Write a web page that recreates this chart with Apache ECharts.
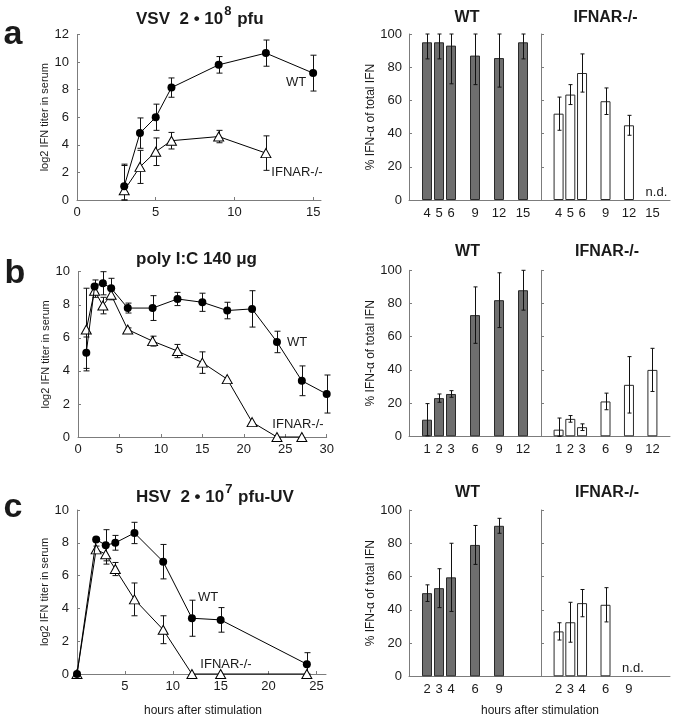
<!DOCTYPE html>
<html><head><meta charset="utf-8">
<script src="https://cdn.jsdelivr.net/npm/echarts@6/dist/echarts.min.js"></script>
<style>html,body{margin:0;padding:0;background:#fff}#c{width:674px;height:720px}</style>
</head><body><div id="c"></div>
<script>
// ---------------- DATA ----------------
// Panel a: VSV 2x10^8 pfu, log2 IFN titer
const aHours = [3, 4, 5, 6, 9, 12, 15];
const aWT    = [1.0, 4.85, 6.0, 8.15, 9.8, 10.65, 9.2];
const aWTErr = [1.6, 1.1, 0.95, 0.7, 0.6, 0.95, 1.3];
const aKO    = [0.7, 2.4, 3.5, 4.3, 4.6, 3.4, null];
const aKOErr = [1.8, 1.2, 1.0, 0.6, 0.45, 1.25, null];
// Panel b: poly I:C 140 ug
const bHours = [1, 2, 3, 4, 6, 9, 12, 15, 18, 21, 24, 27, 30];
const bWT    = [5.1, 9.1, 9.3, 9.0, 7.8, 7.8, 8.35, 8.15, 7.65, 7.75, 5.75, 3.4, 2.6];
const bWTErr = [0.95, 0.4, 0.7, 0.6, 0.3, 0.75, 0.4, 0.55, 0.5, 1.1, 0.65, 0.9, 1.15];
const bKO    = [6.5, 8.85, 7.95, 8.6, 6.5, 5.8, 5.2, 4.5, 3.5, 0.9, 0, 0, null];
const bKOErr = [2.5, 0.4, 0.5, 0.3, 0.1, 0.3, 0.4, 0.65, 0, 0, 0, 0, null];
// Panel c: HSV 2x10^7 pfu-UV
const cHours = [0, 2, 3, 4, 6, 9, 12, 15, 24];
const cWT    = [0, 8.2, 7.85, 8.0, 8.6, 6.85, 3.4, 3.3, 0.6];
const cWTErr = [0, 0.1, 0.95, 0.45, 0.65, 1.05, 1.1, 0.75, 0.7];
const cKO    = [0, 7.6, 7.3, 6.4, 4.55, 2.7, 0, 0, 0];
const cKOErr = [0, 0.2, 0.6, 0.4, 1.0, 0.85, 0, 0, 0];

// % IFN-alpha of total IFN (bars)
const aBarHours = ['4', '5', '6', '9', '12', '15'];
const aBarWT    = [95, 95, 93, 87, 85.5, 95];
const aBarWTErr = [10, 10, 23, 17.5, 17.5, 10];
const aBarKO    = [52, 63.5, 76.5, 59.5, 45, null];
const aBarKOErr = [10, 6, 11.5, 8, 6, null];

const bBarHours = ['1', '2', '3', '6', '9', '12'];
const bBarWT    = [10, 23, 25.5, 73, 82, 88];
const bBarWTErr = [9.7, 2.5, 2, 17, 16.5, 12];
const bBarKO    = [4, 10.5, 5.5, 21, 31, 40];
const bBarKOErr = [7, 2, 2, 5, 17, 13];

const cBarHours = ['2', '3', '4', '6', '9'];
const cBarWT    = [50, 53, 59.5, 79, 90.5];
const cBarWTErr = [5, 11.7, 20.5, 11.7, 4.5];
const cBarKO    = [27, 32.5, 44, 43, null];
const cBarKOErr = [5.2, 12, 8.2, 10.3, null];

// ---------------- LAYOUT / STYLE ----------------
const FONT = "'Liberation Sans', Arial, Helvetica, sans-serif";
const TXT = '#1a1a1a';
const AX = '#7c7c7c';
const SLOT_COUNT = 11;
const SLOTS = [1, 2, 3, 5, 7, 9];

function slotCats(hours) {
  const c = new Array(SLOT_COUNT).fill('');
  hours.forEach((h, i) => { c[SLOTS[i]] = h; });
  return c;
}
function slotVals(vals) {
  const c = new Array(SLOT_COUNT).fill(null);
  vals.forEach((v, i) => { c[SLOTS[i]] = v; });
  return c;
}
function errRender(capHalf, lo, hi) {
  return function (params, api) {
    const x = api.value(0), v = api.value(1), e = api.value(2);
    if (v === null || isNaN(v) || !e || isNaN(e)) return null;
    const top = Math.min(hi, v + e), bot = Math.max(lo, v - e);
    const p1 = api.coord([x, top]), p2 = api.coord([x, bot]);
    const st = { stroke: '#111', lineWidth: 1 };
    const cx = Math.round(p1[0]) + 0.5;
    return { type: 'group', children: [
      { type: 'line', shape: { x1: cx, y1: p1[1], x2: cx, y2: p2[1] }, style: st },
      { type: 'line', shape: { x1: cx - capHalf, y1: p1[1], x2: cx + capHalf, y2: p1[1] }, style: st },
      { type: 'line', shape: { x1: cx - capHalf, y1: p2[1], x2: cx + capHalf, y2: p2[1] }, style: st }
    ]};
  };
}
function ndRender(params, api) {
  const p = api.coord([api.value(0), 0]);
  return { type: 'text', x: p[0] + 4, y: p[1] - 8,
    style: { text: 'n.d.', fill: TXT, font: '13px ' + FONT, align: 'center', verticalAlign: 'middle' } };
}

const grids = [
  { left: 77, top: 34.5, width: 244, height: 165.5 },   // 0 a line
  { left: 78, top: 271.7, width: 248.7, height: 165.3 },// 1 b line
  { left: 77, top: 510, width: 249, height: 164 },      // 2 c line
  { left: 409, top: 34, width: 132, height: 166 },      // 3 a WT
  { left: 541, top: 34, width: 129, height: 166 },      // 4 a KO
  { left: 409, top: 270.3, width: 132, height: 166 },   // 5 b WT
  { left: 541, top: 270.3, width: 129, height: 166 },   // 6 b KO
  { left: 409, top: 510, width: 132, height: 166.3 },   // 7 c WT
  { left: 541, top: 510, width: 129, height: 166.3 }    // 8 c KO
];

const axisLine = { show: true, lineStyle: { color: AX, width: 1 } };
const axisTick = { show: true, inside: true, length: 3, lineStyle: { color: AX, width: 1 } };
const labelBase = { color: TXT, fontSize: 13, fontFamily: FONT };

function lineX(g, max, ticks) {
  return { type: 'value', gridIndex: g, min: 0, max: max, interval: 5,
    axisLine, splitLine: { show: false },
    axisTick: Object.assign({}, axisTick, { customValues: ticks }),
    axisLabel: Object.assign({}, labelBase, { margin: 6, customValues: ticks }) };
}
function lineY(g, max) {
  return { type: 'value', gridIndex: g, min: 0, max: max, interval: 2,
    axisLine, axisTick, splitLine: { show: false },
    axisLabel: Object.assign({}, labelBase, { margin: 8 }),
    name: 'log2 IFN titer in serum', nameLocation: 'middle', nameGap: 27,
    nameTextStyle: { color: TXT, fontSize: 11, fontFamily: FONT } };
}
function barX(g, hours) {
  return { type: 'category', gridIndex: g, data: slotCats(hours),
    axisLine, axisTick: { show: false }, splitLine: { show: false },
    axisLabel: Object.assign({}, labelBase, { interval: 0, margin: 7 }) };
}
function barY(g, showLabels) {
  const y = { type: 'value', gridIndex: g, min: 0, max: 100, interval: 20,
    axisLine, axisTick, splitLine: { show: false },
    axisLabel: Object.assign({}, labelBase, { show: showLabels, margin: 7 }) };
  if (showLabels) {
    y.name = '% IFN-α of total IFN'; y.nameLocation = 'middle'; y.nameGap = 26;
    y.nameTextStyle = { color: TXT, fontSize: 12, fontFamily: FONT };
  }
  return y;
}

const xAxes = [
  lineX(0, 15.5, [0, 5, 10, 15]),
  lineX(1, 30, [0, 5, 10, 15, 20, 25, 30]),
  lineX(2, 26, [5, 10, 15, 20, 25]),
  barX(3, aBarHours), barX(4, aBarHours),
  barX(5, bBarHours), barX(6, bBarHours),
  barX(7, cBarHours), barX(8, cBarHours)
];
const yAxes = [
  lineY(0, 12), lineY(1, 10), lineY(2, 10),
  barY(3, true), barY(4, false), barY(5, true), barY(6, false), barY(7, true), barY(8, false)
];

const series = [];
function addLinePanel(ai, hours, wt, wtE, ko, koE) {
  const pairs = (vals) => hours.map((h, i) => [h, vals[i]]).filter(d => d[1] !== null);
  const trip = (vals, errs) => hours.map((h, i) => [h, vals[i], errs[i]]).filter(d => d[1] !== null);
  series.push({ type: 'custom', xAxisIndex: ai, yAxisIndex: ai, z: 2, silent: true,
    renderItem: errRender(3, 0, 1e9), data: trip(wt, wtE), encode: { x: 0, y: 1 } });
  series.push({ type: 'custom', xAxisIndex: ai, yAxisIndex: ai, z: 2, silent: true,
    renderItem: errRender(3, 0, 1e9), data: trip(ko, koE), encode: { x: 0, y: 1 } });
  series.push({ type: 'line', xAxisIndex: ai, yAxisIndex: ai, z: 3, clip: false, data: pairs(ko),
    symbol: 'triangle', symbolSize: [10, 9], lineStyle: { color: '#000', width: 1 },
    itemStyle: { color: '#fff', borderColor: '#000', borderWidth: 1 }, animation: false });
  series.push({ type: 'line', xAxisIndex: ai, yAxisIndex: ai, z: 4, clip: false, data: pairs(wt),
    symbol: 'circle', symbolSize: 8, lineStyle: { color: '#000', width: 1 },
    itemStyle: { color: '#000', borderColor: '#000', borderWidth: 0 }, animation: false });
}
addLinePanel(0, aHours, aWT, aWTErr, aKO, aKOErr);
addLinePanel(1, bHours, bWT, bWTErr, bKO, bKOErr);
addLinePanel(2, cHours, cWT, cWTErr, cKO, cKOErr);

function addBars(ai, vals, errs, filled) {
  series.push({ type: 'bar', xAxisIndex: ai, yAxisIndex: ai, z: 2, data: slotVals(vals), barWidth: 10,
    itemStyle: { color: filled ? '#6e6e6e' : '#ffffff', borderColor: '#2a2a2a', borderWidth: 1 },
    animation: false });
  series.push({ type: 'custom', xAxisIndex: ai, yAxisIndex: ai, z: 3, silent: true,
    renderItem: errRender(2, 0, 100),
    data: vals.map((v, i) => [SLOTS[i], v, errs[i]]).filter(d => d[1] !== null) });
  const nd = vals.map((v, i) => [SLOTS[i], v]).filter(d => d[1] === null).map(d => [d[0], 0]);
  if (nd.length) series.push({ type: 'custom', xAxisIndex: ai, yAxisIndex: ai, z: 3, silent: true,
    renderItem: ndRender, data: nd });
}
addBars(3, aBarWT, aBarWTErr, true);  addBars(4, aBarKO, aBarKOErr, false);
addBars(5, bBarWT, bBarWTErr, true);  addBars(6, bBarKO, bBarKOErr, false);
addBars(7, cBarWT, cBarWTErr, true);  addBars(8, cBarKO, cBarKOErr, false);

const titleRich = {
  t: { fontSize: 17, fontWeight: 'bold', fontFamily: FONT, color: TXT, verticalAlign: 'bottom', lineHeight: 19 },
  s: { fontSize: 13, fontWeight: 'bold', fontFamily: FONT, color: TXT, verticalAlign: 'bottom', lineHeight: 14, padding: [0, 1, 10, 1] }
};
const titles = [
  { text: '{t|VSV  2 • 10}{s|8}{t| pfu}', left: 131, top: 4, textStyle: { rich: titleRich } },
  { text: '{t|poly I:C 140 μg}', left: 131, top: 244, textStyle: { rich: titleRich } },
  { text: '{t|HSV  2 • 10}{s|7}{t| pfu-UV}', left: 131, top: 482, textStyle: { rich: titleRich } }
];

function txt(text, x, y, size, bold, align) {
  return { type: 'text', x: x, y: y, silent: true,
    style: { text: text, fill: TXT, font: (bold ? 'bold ' : '') + size + 'px ' + FONT,
      align: align || 'center', verticalAlign: 'middle' } };
}
const graphics = [
  txt('a', 13, 35, 34, true), txt('b', 15, 274, 34, true), txt('c', 13, 508, 34, true),
  txt('WT', 467, 18, 16, true), txt('IFNAR-/-', 605.5, 18, 16, true),
  txt('WT', 467.5, 252, 16, true), txt('IFNAR-/-', 607, 252, 16, true),
  txt('WT', 467.5, 493, 16, true), txt('IFNAR-/-', 607, 493, 16, true),
  txt('WT', 296, 82, 13), txt('IFNAR-/-', 297, 172, 13),
  txt('WT', 297, 342, 13), txt('IFNAR-/-', 298, 424, 13),
  txt('WT', 208, 597, 13), txt('IFNAR-/-', 226, 664, 13),
  txt('hours after stimulation', 203, 711, 12), txt('hours after stimulation', 540, 711, 12)
];

const chart = echarts.init(document.getElementById('c'), null, { renderer: 'canvas' });
chart.setOption({
  backgroundColor: '#fff',
  animation: false,
  title: titles,
  grid: grids,
  xAxis: xAxes,
  yAxis: yAxes,
  series: series,
  graphic: graphics
});
</script></body></html>
